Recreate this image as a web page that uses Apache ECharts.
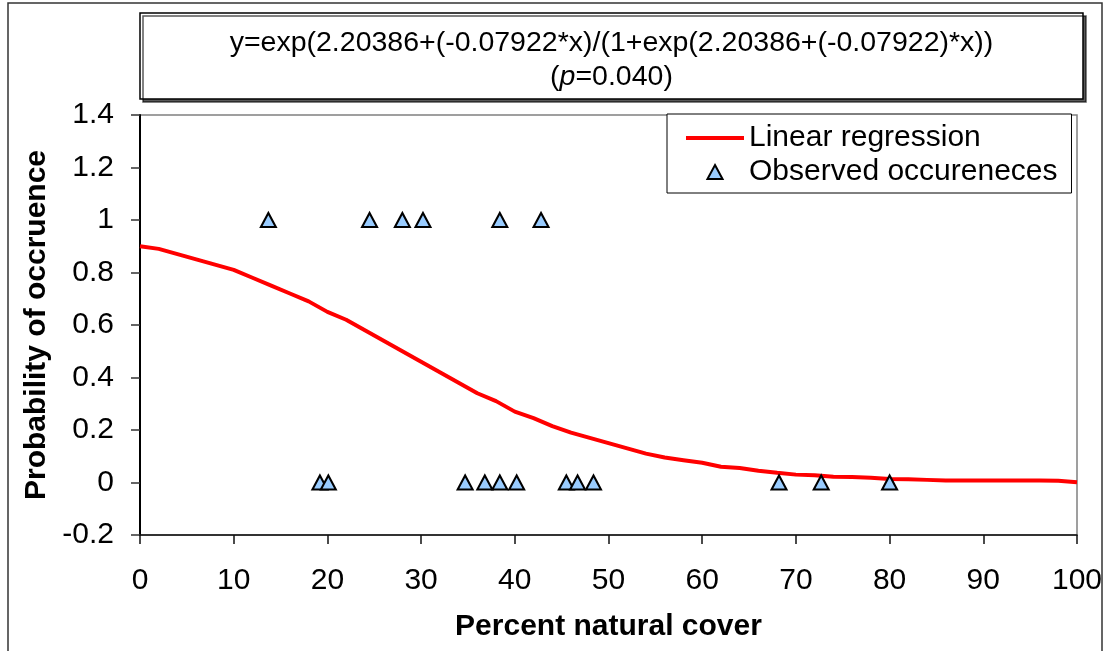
<!DOCTYPE html>
<html>
<head>
<meta charset="utf-8">
<script src="https://cdn.jsdelivr.net/npm/echarts@6/dist/echarts.min.js"></script>
<style>
  html, body { margin: 0; padding: 0; background: #fff; }
  #chart { width: 1113px; height: 651px; }
</style>
</head>
<body>
<div id="chart"></div>
<script>
// Fitted probability curve (percent natural cover -> probability of occurrence)
const coverX = [0, 2, 4, 6, 8, 10, 12, 14, 16, 18, 20, 22, 24, 26, 28, 30, 32, 34, 36, 38, 40,
  42, 44, 46, 48, 50, 52, 54, 56, 58, 60, 62, 64, 66, 68, 70, 72, 74, 76, 78, 80,
  82, 84, 86, 88, 90, 92, 94, 96, 98, 100];
const fittedProb = [0.90, 0.89, 0.87, 0.85, 0.83, 0.81, 0.78, 0.75, 0.72, 0.69, 0.65,
  0.62, 0.58, 0.54, 0.50, 0.46, 0.42, 0.38, 0.34, 0.31, 0.27,
  0.245, 0.215, 0.19, 0.17, 0.15, 0.13, 0.11, 0.095, 0.085, 0.075,
  0.06, 0.055, 0.045, 0.037, 0.030, 0.028, 0.022, 0.021, 0.018, 0.013,
  0.012, 0.010, 0.008, 0.008, 0.008, 0.008, 0.008, 0.008, 0.007, 0.001];

// Observed presence (1) / absence (0) at each site
const siteCover = [13.7, 24.5, 28.0, 30.2, 38.4, 42.8,
  19.2, 20.1, 34.7, 36.8, 38.4, 40.2, 45.5, 46.7, 48.4, 68.2, 72.7, 80.0];
const siteOccur = [1, 1, 1, 1, 1, 1,
  0, 0, 0, 0, 0, 0, 0, 0, 0, 0, 0, 0];

const equationLine = 'y=exp(2.20386+(-0.07922*x)/(1+exp(2.20386+(-0.07922)*x))';
const pValue = '0.040';
const seriesNames = ['Linear regression', 'Observed occureneces'];
const xAxisTitle = 'Percent natural cover';
const yAxisTitle = 'Probability of occruence';

const FONT = '"Liberation Sans", Arial, sans-serif';

const chart = echarts.init(document.getElementById('chart'), null, { renderer: 'canvas' });

const curveData = coverX.map((x, i) => [x, fittedProb[i]]);
const siteData = siteCover.map((x, i) => [x, siteOccur[i]]);

chart.setOption({
  backgroundColor: '#ffffff',
  animation: false,
  title: {
    left: 611.5,
    top: 26,
    textAlign: 'center',
    padding: 0,
    z: 10,
    text: '{a|' + equationLine + '}\n{a|(}{i|p}{a|=' + pValue + ')}',
    textStyle: {
      fontWeight: 'normal',
      rich: {
        a: { fontFamily: FONT, fontSize: 28.5, lineHeight: 34, color: '#000', fontWeight: 'normal' },
        i: { fontFamily: FONT, fontSize: 28.5, lineHeight: 34, color: '#000', fontWeight: 'normal', fontStyle: 'italic' }
      }
    }
  },
  graphic: [
    {
      type: 'rect', z: -10, silent: true,
      shape: { x: 8, y: 3, width: 1094, height: 680 },
      style: { fill: 'none', stroke: '#333', lineWidth: 1.5 }
    },
    {
      type: 'rect', z: 1, silent: true,
      shape: { x: 140, y: 13, width: 943, height: 86 },
      style: {
        fill: '#fff', stroke: '#000', lineWidth: 1.5,
        shadowColor: 'rgba(0,0,0,0.65)', shadowOffsetX: 3, shadowOffsetY: 3, shadowBlur: 0
      }
    }
  ],
  grid: {
    left: 140, top: 115, width: 937, height: 420,
    show: true, borderColor: '#808080', borderWidth: 1.5, backgroundColor: 'transparent'
  },
  legend: {
    orient: 'vertical',
    left: 667, top: 114,
    padding: [9, 14, 6, 19],
    itemGap: 4,
    itemWidth: 58, itemHeight: 14,
    symbolKeepAspect: true,
    backgroundColor: '#fff',
    borderColor: '#000', borderWidth: 1,
    textStyle: { fontFamily: FONT, fontSize: 30, color: '#000' },
    data: [
      { name: seriesNames[0], icon: 'path://M0,0H58V4H0Z' },
      { name: seriesNames[1], icon: 'path://M7,0L14,13L0,13Z' }
    ]
  },
  xAxis: {
    type: 'value',
    min: 0, max: 100, interval: 10,
    name: xAxisTitle,
    nameLocation: 'middle',
    nameGap: 77,
    nameTextStyle: { fontFamily: FONT, fontSize: 30, fontWeight: 'bold', color: '#000' },
    axisLine: { onZero: false, lineStyle: { color: '#111', width: 1.5 } },
    axisTick: { show: true, length: 9, lineStyle: { color: '#111', width: 1.5 } },
    axisLabel: { fontFamily: FONT, fontSize: 30, color: '#000', margin: 31 },
    splitLine: { show: false }
  },
  yAxis: {
    type: 'value',
    min: -0.2, max: 1.4, interval: 0.2,
    name: yAxisTitle,
    nameLocation: 'middle',
    nameGap: 88,
    nameTextStyle: { fontFamily: FONT, fontSize: 30, fontWeight: 'bold', color: '#000' },
    axisLine: { onZero: false, lineStyle: { color: '#000', width: 2 } },
    axisTick: { show: true, length: 9, lineStyle: { color: '#333', width: 1.5 } },
    axisLabel: { fontFamily: FONT, fontSize: 30, color: '#000', margin: 26 },
    splitLine: { show: false }
  },
  series: [
    {
      name: seriesNames[0],
      type: 'line',
      data: curveData,
      symbol: 'none',
      smooth: false,
      z: 3,
      lineStyle: { color: '#ff0000', width: 4 },
      itemStyle: { color: '#ff0000' }
    },
    {
      name: seriesNames[1],
      type: 'scatter',
      data: siteData,
      symbol: 'triangle',
      symbolSize: [15, 14],
      z: 4,
      itemStyle: { color: '#99ccff', borderColor: '#000', borderWidth: 2, opacity: 1 }
    }
  ]
});
</script>
</body>
</html>
